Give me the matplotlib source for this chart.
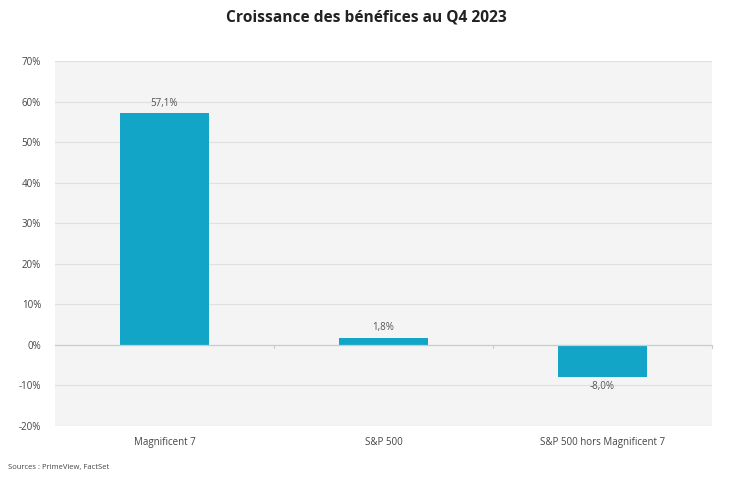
import matplotlib.pyplot as plt
from matplotlib.ticker import FuncFormatter

categories = ['Magnificent 7', 'S&P 500', 'S&P 500 hors Magnificent 7']
growth = [57.1, 1.8, -8.0]
yticks = [-20, -10, 0, 10, 20, 30, 40, 50, 60, 70]

plt.rcParams['font.family'] = ['Open Sans', 'DejaVu Sans']

fig = plt.figure(figsize=(7.32, 4.78), dpi=100)
ax = fig.add_axes([55 / 732, 1 - 426 / 478, 657 / 732, 365 / 478])
ax.set_facecolor('#f4f4f4')

x = range(len(categories))
ax.bar(x, growth, width=0.41, color='#12a5c8', zorder=2)
for xi, v in zip(x, growth):
    label = f'{v:.1f}%'.replace('.', ',')
    if v >= 0:
        ax.annotate(label, (xi, v), xytext=(0, 3), textcoords='offset points',
                    ha='center', va='bottom', fontsize=7, color='#555555')
    else:
        ax.annotate(label, (xi, v), xytext=(0, -3), textcoords='offset points',
                    ha='center', va='top', fontsize=7, color='#555555')

ax.set_xlim(-0.5, 2.5)
ax.set_ylim(-20, 70)
ax.set_yticks(yticks)
ax.yaxis.set_major_formatter(FuncFormatter(lambda v, p: f'{v:.0f}%'))
ax.set_xticks(list(x))
ax.set_xticklabels(categories)
ax.grid(axis='y', color='#e0e0e0', linewidth=0.8, zorder=0)
ax.axhline(0, color='#cccccc', linewidth=0.9, zorder=3)
for b in [0.5, 1.5, 2.5]:
    ax.plot([b, b], [0, -0.8], color='#cccccc', linewidth=0.8, zorder=3, clip_on=False)

for s in ax.spines.values():
    s.set_visible(False)
ax.tick_params(axis='both', length=0, labelsize=7, colors='#444444')
ax.tick_params(axis='x', pad=8)
ax.tick_params(axis='y', pad=10)

fig.text(0.5, 1 - 17 / 478, 'Croissance des bénéfices au Q4 2023', ha='center', va='center',
         fontsize=11.2, fontweight='bold', color='#222222')
fig.text(8 / 732, 1 - 467 / 478, 'Sources : PrimeView, FactSet', ha='left', va='center',
         fontsize=5.5, color='#444444')

fig.savefig('out.png', dpi=100)
